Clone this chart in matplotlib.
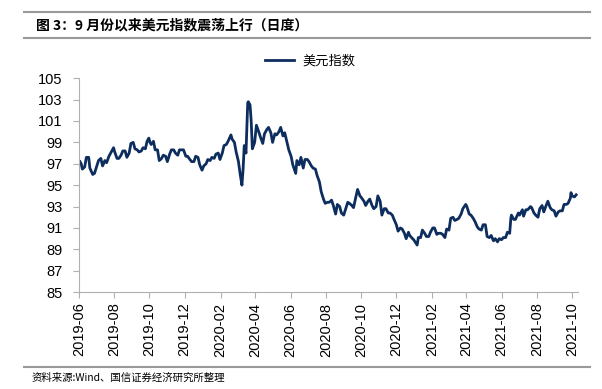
import matplotlib
matplotlib.use("Agg")
import matplotlib.pyplot as plt
import matplotlib.dates as mdates
import pandas as pd
from matplotlib.lines import Line2D

plt.rcParams['font.family'] = ['Liberation Sans', 'Noto Sans CJK SC', 'DejaVu Sans']

title = "图 3：9 月份以来美元指数震荡上行（日度）"
source = "资料来源:Wind、国信证券经济研究所整理"
series_name = "美元指数"

# dollar index (approx.)
dates_2019 = ["2019-06-03", "2019-06-05", "2019-06-07", "2019-06-11", "2019-06-14", "2019-06-18",
              "2019-06-20", "2019-06-25", "2019-06-28", "2019-07-02", "2019-07-05", "2019-07-09",
              "2019-07-12", "2019-07-16", "2019-07-19", "2019-07-23", "2019-07-26", "2019-07-31",
              "2019-08-02", "2019-08-06", "2019-08-09", "2019-08-13", "2019-08-16", "2019-08-20",
              "2019-08-23", "2019-08-27", "2019-08-30", "2019-09-03", "2019-09-06", "2019-09-10",
              "2019-09-13", "2019-09-17", "2019-09-20", "2019-09-24", "2019-09-27", "2019-09-30",
              "2019-10-02", "2019-10-04", "2019-10-08", "2019-10-11", "2019-10-15", "2019-10-18",
              "2019-10-22", "2019-10-25", "2019-10-29", "2019-11-01", "2019-11-05", "2019-11-08",
              "2019-11-12", "2019-11-15", "2019-11-19", "2019-11-22", "2019-11-26", "2019-11-29",
              "2019-12-03", "2019-12-06", "2019-12-10", "2019-12-13", "2019-12-17", "2019-12-20",
              "2019-12-24", "2019-12-27", "2019-12-31"]
values_2019 = [97.2, 97.0, 96.5, 96.7, 97.6, 97.6,
               96.6, 96.0, 96.1, 96.8, 97.3, 97.5,
               96.8, 97.3, 97.1, 97.7, 98.0, 98.5,
               98.1, 97.5, 97.5, 97.8, 98.2, 98.2,
               97.6, 98.0, 98.9, 99.0, 98.4, 98.3,
               98.1, 98.2, 98.5, 98.4, 99.1, 99.4,
               99.0, 98.8, 99.1, 98.3, 98.3, 97.3,
               97.5, 97.8, 97.7, 97.2, 97.9, 98.3,
               98.3, 98.0, 97.8, 98.3, 98.3, 98.3,
               97.7, 97.7, 97.4, 97.2, 97.2, 97.7,
               97.6, 96.9, 96.4]

dates_2020 = ["2020-01-03", "2020-01-07", "2020-01-10", "2020-01-14", "2020-01-17", "2020-01-21",
              "2020-01-24", "2020-01-28", "2020-01-31", "2020-02-04", "2020-02-07", "2020-02-11",
              "2020-02-14", "2020-02-19", "2020-02-21", "2020-02-25", "2020-02-28", "2020-03-03",
              "2020-03-06", "2020-03-09", "2020-03-11", "2020-03-13", "2020-03-16", "2020-03-18",
              "2020-03-19", "2020-03-20", "2020-03-23", "2020-03-25", "2020-03-27", "2020-03-31",
              "2020-04-03", "2020-04-07", "2020-04-10", "2020-04-14", "2020-04-17", "2020-04-21",
              "2020-04-24", "2020-04-28", "2020-05-01", "2020-05-05", "2020-05-08", "2020-05-12",
              "2020-05-15", "2020-05-19", "2020-05-22", "2020-05-26", "2020-05-29", "2020-06-02",
              "2020-06-05", "2020-06-10", "2020-06-12", "2020-06-16", "2020-06-19", "2020-06-23",
              "2020-06-26", "2020-06-30", "2020-07-03", "2020-07-07", "2020-07-10", "2020-07-14",
              "2020-07-17", "2020-07-21", "2020-07-24", "2020-07-28", "2020-07-31", "2020-08-04",
              "2020-08-07", "2020-08-11", "2020-08-14", "2020-08-18", "2020-08-21", "2020-08-25",
              "2020-08-28", "2020-09-01", "2020-09-04", "2020-09-08", "2020-09-11", "2020-09-15",
              "2020-09-18", "2020-09-22", "2020-09-25", "2020-09-29", "2020-10-02", "2020-10-06",
              "2020-10-09", "2020-10-13", "2020-10-16", "2020-10-20", "2020-10-23", "2020-10-27",
              "2020-10-30", "2020-11-03", "2020-11-06", "2020-11-10", "2020-11-13", "2020-11-17",
              "2020-11-20", "2020-11-24", "2020-11-27", "2020-12-01", "2020-12-04", "2020-12-08",
              "2020-12-11", "2020-12-15", "2020-12-18", "2020-12-22", "2020-12-24", "2020-12-29",
              "2020-12-31"]
values_2020 = [96.8, 97.0, 97.4, 97.3, 97.6, 97.5,
               97.9, 98.0, 97.4, 98.0, 98.7, 98.8,
               99.1, 99.7, 99.3, 99.0, 98.1, 97.2,
               96.0, 95.0, 96.5, 98.7, 98.0, 101.2,
               102.7, 102.8, 102.5, 101.0, 98.4, 99.0,
               100.6, 100.0, 99.5, 98.9, 99.8, 100.2,
               100.4, 99.9, 99.0, 99.8, 99.7, 100.0,
               100.4, 99.6, 99.9, 99.0, 98.3, 97.7,
               96.9, 96.1, 97.3, 96.9, 97.6, 96.6,
               97.4, 97.4, 97.2, 96.8, 96.6, 96.5,
               95.9, 95.3, 94.4, 93.7, 93.3, 93.4,
               93.4, 93.6, 93.1, 92.3, 93.2, 93.0,
               92.4, 92.2, 92.7, 93.4, 93.3, 93.1,
               92.9, 93.9, 94.6, 94.0, 93.8, 93.5,
               93.1, 93.5, 93.7, 93.1, 92.8, 93.0,
               94.0, 93.5, 92.2, 92.8, 92.8, 92.4,
               92.4, 92.2, 91.8, 91.3, 90.7, 91.0,
               90.9, 90.5, 90.0, 90.6, 90.3, 90.0,
               89.9]

dates_2021 = ["2021-01-06", "2021-01-08", "2021-01-12", "2021-01-15", "2021-01-19", "2021-01-22",
              "2021-01-26", "2021-01-29", "2021-02-02", "2021-02-05", "2021-02-09", "2021-02-12",
              "2021-02-16", "2021-02-19", "2021-02-23", "2021-02-26", "2021-03-02", "2021-03-05",
              "2021-03-09", "2021-03-12", "2021-03-16", "2021-03-19", "2021-03-23", "2021-03-26",
              "2021-03-31", "2021-04-02", "2021-04-06", "2021-04-09", "2021-04-13", "2021-04-16",
              "2021-04-20", "2021-04-23", "2021-04-27", "2021-04-30", "2021-05-04", "2021-05-07",
              "2021-05-11", "2021-05-14", "2021-05-18", "2021-05-21", "2021-05-25", "2021-05-28",
              "2021-06-01", "2021-06-04", "2021-06-08", "2021-06-11", "2021-06-15", "2021-06-17",
              "2021-06-18", "2021-06-22", "2021-06-25", "2021-06-30", "2021-07-02", "2021-07-07",
              "2021-07-09", "2021-07-13", "2021-07-16", "2021-07-21", "2021-07-23", "2021-07-27",
              "2021-07-30", "2021-08-03", "2021-08-06", "2021-08-10", "2021-08-13", "2021-08-17",
              "2021-08-20", "2021-08-24", "2021-08-27", "2021-08-31", "2021-09-03", "2021-09-07",
              "2021-09-10", "2021-09-14", "2021-09-17", "2021-09-21", "2021-09-24", "2021-09-28",
              "2021-09-29", "2021-10-01", "2021-10-05", "2021-10-08"]
values_2021 = [89.4, 90.1, 90.1, 90.8, 90.5, 90.2,
               90.2, 90.6, 91.0, 91.0, 90.4, 90.5,
               90.5, 90.4, 90.1, 90.9, 90.8, 91.9,
               92.0, 91.7, 91.8, 91.9, 92.3, 92.8,
               93.2, 93.0, 92.3, 92.2, 91.9, 91.6,
               91.1, 90.9, 90.8, 91.3, 91.3, 90.2,
               90.1, 90.3, 89.8, 90.0, 89.7, 90.0,
               89.9, 90.1, 90.1, 90.6, 90.5, 91.9,
               92.2, 91.8, 91.8, 92.4, 92.2, 92.7,
               92.1, 92.7, 92.7, 93.0, 92.9, 92.4,
               92.2, 92.0, 92.8, 93.1, 92.5, 93.1,
               93.5, 92.9, 92.7, 92.6, 92.1, 92.5,
               92.6, 92.6, 93.2, 93.2, 93.3, 93.8,
               94.3, 94.0, 93.9, 94.1]

dates = pd.to_datetime(dates_2019 + dates_2020 + dates_2021)
values = values_2019 + values_2020 + values_2021

fig = plt.figure(figsize=(6.02, 3.89), dpi=100)
ax = fig.add_axes([0.131, 0.249, 0.829, 0.550])

line_color = '#0d2d5e'
ax.plot(dates, values, color=line_color, linewidth=2.0, solid_joinstyle='round')

ax.set_ylim(85, 105)
ax.set_yticks(range(85, 106, 2))
ax.set_xlim(pd.Timestamp("2019-06-01"), pd.Timestamp("2021-10-11"))
ax.xaxis.set_major_locator(mdates.MonthLocator(bymonth=[2, 4, 6, 8, 10, 12]))
ax.xaxis.set_major_formatter(mdates.DateFormatter('%Y-%m'))
plt.setp(ax.get_xticklabels(), rotation=90)

for s in ['top', 'right']:
    ax.spines[s].set_visible(False)
for s in ['left', 'bottom']:
    ax.spines[s].set_color('#b0b0b0')
    ax.spines[s].set_linewidth(0.8)
ax.tick_params(axis='both', colors='#b0b0b0', labelcolor='black', labelsize=10.5,
               direction='out', length=4, width=0.8)
ax.tick_params(axis='y', pad=8)

handle = Line2D([], [], color=line_color, linewidth=2.0)
fig.legend([handle], [series_name], loc='center', bbox_to_anchor=(0.515, 0.842),
           frameon=False, handlelength=2.2, handletextpad=0.6,
           prop={'family': 'Noto Sans CJK SC', 'size': 9.5})

# header and footer rules
fig.add_artist(Line2D([0.04, 0.98], [0.969, 0.969], color='#999999', linewidth=1.5))
fig.add_artist(Line2D([0.04, 0.98], [0.902, 0.902], color='#999999', linewidth=1.5))
fig.add_artist(Line2D([0.04, 0.98], [0.057, 0.057], color='#999999', linewidth=1.5))
fig.text(0.06, 0.936, title, fontsize=10, fontweight='bold', va='center', ha='left',
         family=['Noto Sans CJK SC', 'DejaVu Sans'])
fig.text(0.052, 0.028, source, fontsize=7.5, va='center', ha='left',
         family=['Noto Sans CJK SC', 'DejaVu Sans'])

fig.savefig('out.png', dpi=100)
